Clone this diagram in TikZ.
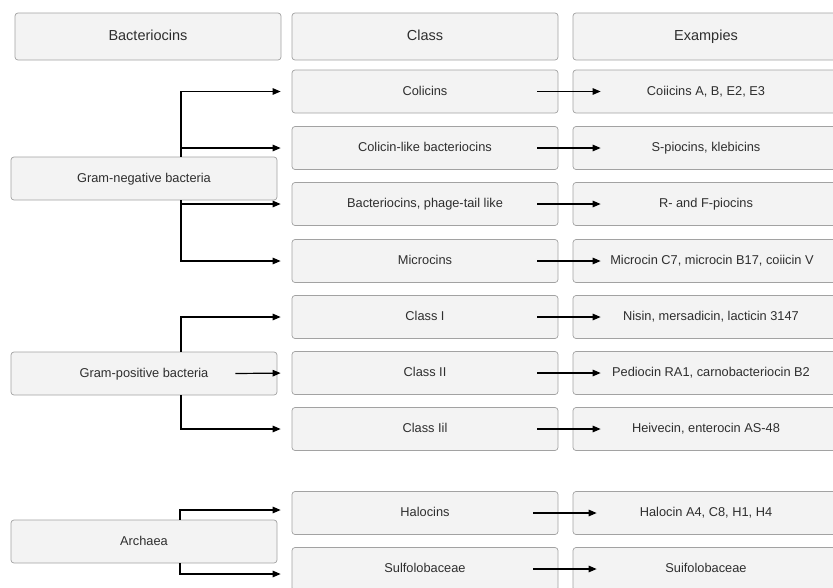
\documentclass[tikz,border=0pt]{standalone}
\usepackage{fontspec}
\setmainfont{Liberation Sans}
\usetikzlibrary{arrows.meta}
\definecolor{boxfill}{HTML}{F3F3F3}
\definecolor{boxline}{HTML}{A2A2A2}
\definecolor{txt}{HTML}{2E2E2E}

\begin{document}
\begin{tikzpicture}[x=1pt, y=-1pt, thick,
        box/.style = {draw=boxline, fill=boxfill, rounded corners=3pt, line width=0.7pt,
                      minimum width=266pt, minimum height=43pt, text=txt,
                      text height=0.72em, text depth=0pt, font=\fontsize{12.8}{15}\selectfont},
        head/.style = {box, minimum height=47pt, font=\fontsize{14.5}{17}\selectfont},
        arr/.style = {-{Triangle[length=8pt,width=6.5pt]}, line width=1.2pt}]
        \useasboundingbox (0,0) rectangle (833,587);

        % Headers
        \node[head] (bact) at (148,36.5) {Bacteriocins};
        \node[head] (class) at (425,36.5) {Class};
        \node[head] (examp) at (706,36.5) {Exampies};

        % Groups
        \node[box] (gneg) at (144,178.5) {Gram-negative bacteria};
        \node[box] (gpos) at (144,373.5) {Gram-positive bacteria};
        \node[box] (arch) at (144,541.5) {Archaea};

        % Classes
        \node[box] (col) at (425,91.5) {Colicins};
        \node[box] (colike) at (425,148) {Colicin-like bacteriocins};
        \node[box] (phage) at (425,204) {Bacteriocins, phage-tail like};
        \node[box] (micro) at (425,261) {Microcins};
        \node[box] (cI) at (425,317) {Class I};
        \node[box] (cII) at (425,373) {Class II};
        \node[box] (cIII) at (425,429) {Class Iil};
        \node[box] (halo) at (425,513) {Halocins};
        \node[box] (sulfo) at (425,569) {Sulfolobaceae};

        % Examples
        \node[box] (excol) at (706,91.5) {Coiicins A, B, E2, E3};
        \node[box] (excolike) at (706,148) {S-piocins, klebicins};
        \node[box] (exphage) at (706,204) {R- and F-piocins};
        \node[box] (exmicro) at (706,261) {\hspace*{12pt}Microcin C7, microcin B17, coiicin V};
        \node[box] (excI) at (706,317) {\hspace*{10pt}Nisin, mersadicin, lacticin 3147};
        \node[box] (excII) at (706,373) {\hspace*{10pt}Pediocin RA1, carnobacteriocin B2};
        \node[box] (excIII) at (706,429) {Heivecin, enterocin AS-48};
        \node[box] (exhalo) at (706,513) {Halocin A4, C8, H1, H4};
        \node[box] (exsulfo) at (706,569) {Suifolobaceae};

        % Group to class arrows
        \draw[arr, shorten >=11pt] ([xshift=37pt]gneg.north) |- (col.west);
        \draw[arr, shorten >=11pt] ([xshift=37pt]gneg.north) |- (colike.west);
        \draw[arr, shorten >=11pt] ([xshift=37pt]gneg.south) |- (phage.west);
        \draw[arr, shorten >=11pt] ([xshift=37pt]gneg.south) |- (micro.west);
        \draw[arr, shorten >=11pt] ([xshift=37pt]gpos.north) |- (cI.west);
        \draw[arr, shorten >=11pt] ([xshift=-42pt]gpos.east) -- (cII.west);
        \draw[arr, shorten >=11pt] ([xshift=37pt]gpos.south) |- (cIII.west);
        \draw[arr, shorten >=11pt] ([xshift=36pt]arch.north) |- ([yshift=3pt]halo.west);
        \draw[arr, shorten >=11pt] ([xshift=36pt]arch.south) |- ([yshift=-5pt]sulfo.west);

        % Class to example arrows
        \foreach \c in {col, colike, phage, micro, cI, cII, cIII}
            \draw[arr] ([xshift=-21pt]\c.east) -- ([xshift=28pt]ex\c.west);
        \foreach \c in {halo, sulfo}
            \draw[arr] ([xshift=-25pt]\c.east) -- ([xshift=24pt]ex\c.west);
\end{tikzpicture}
\end{document}
